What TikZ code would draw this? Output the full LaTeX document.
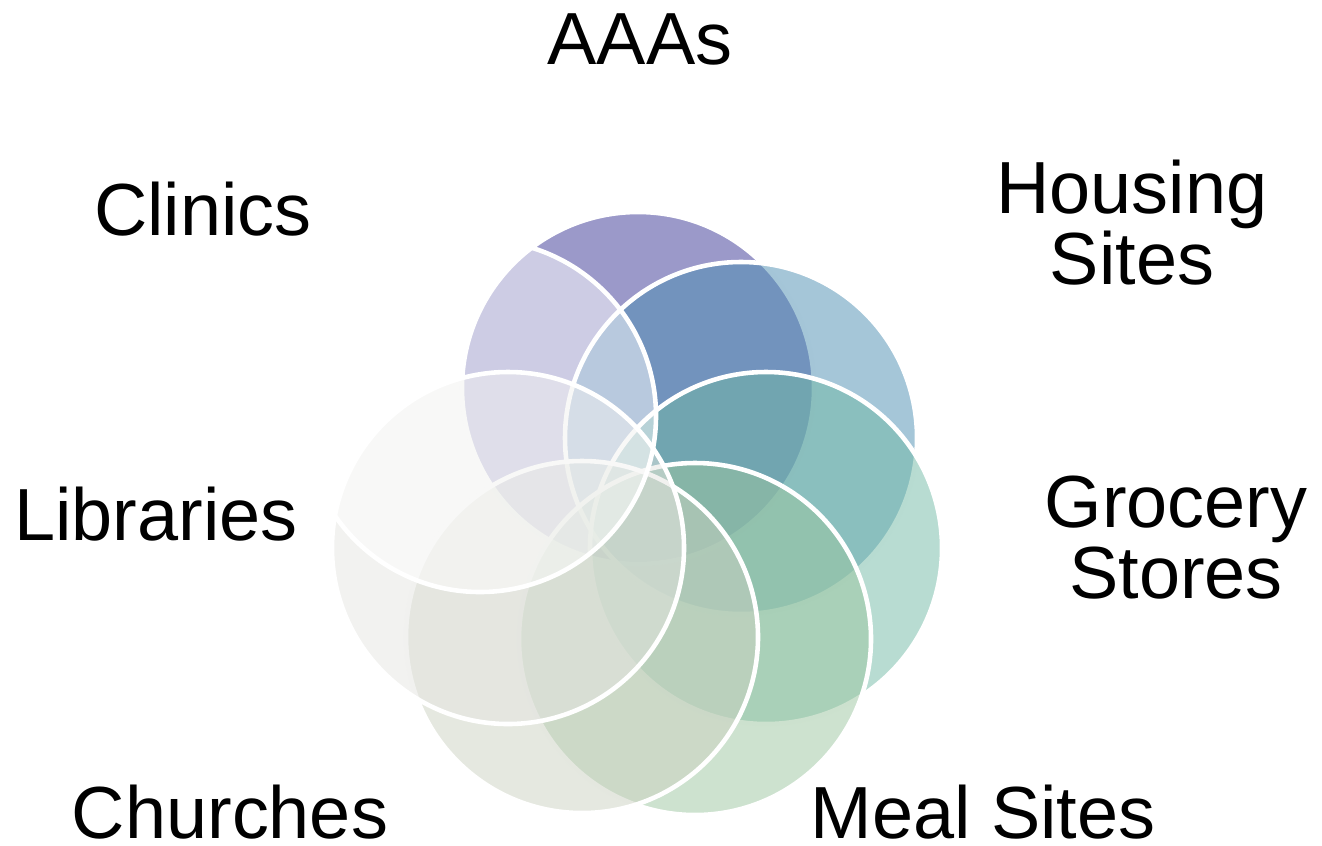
\documentclass[tikz,border=0pt]{standalone}
\usepackage{fontspec}
\setmainfont{Liberation Sans}
\usetikzlibrary{backgrounds}

\definecolor{aaacol}{HTML}{373393}
\definecolor{housecol}{HTML}{4B8DB1}
\definecolor{grocol}{HTML}{71B9A5}
\definecolor{mealcol}{HTML}{9BC59F}
\definecolor{churchcol}{HTML}{CBD1C1}
\definecolor{libcol}{HTML}{E5E5E1}
\definecolor{cliniccol}{HTML}{FFFFFF}

\begin{document}
\begin{tikzpicture}[x=0.01cm,y=-0.01cm,
		venn/.style={draw=white,line width=1.3pt,fill opacity=0.5},
		lbl/.style={font=\fontsize{21pt}{20pt}\selectfont,align=center,anchor=base,inner sep=0pt}]
		\useasboundingbox (0,0) rectangle (1322,845);
		\def\aaacircle{(638,388) circle (176)}
		\def\housecircle{(741,438) circle (176)}
		\def\grocircle{(766,548) circle (176)}
		\def\mealcircle{(695,639) circle (176)}
		\def\churchcircle{(582,637) circle (176)}
		\def\libcircle{(508,548) circle (176)}
		\def\cliniccircle{(480,416) circle (176)}
		\draw[venn,fill=aaacol] \aaacircle;
		\draw[venn,fill=housecol] \housecircle;
		\draw[venn,fill=grocol] \grocircle;
		\draw[venn,fill=mealcol] \mealcircle;
		\draw[venn,fill=churchcol] \churchcircle;
		\draw[venn,fill=libcol] \libcircle;
		\draw[venn,fill=cliniccol] \cliniccircle;
		% labels round the ring
		\node[lbl] (aaas) at (640,64) {AAAs};
		\node[lbl] (housing) at (1132,284) {Housing\\Sites};
		\node[lbl] (grocery) at (1176,598) {Grocery\\Stores};
		\node[lbl] (meal) at (983,838) {Meal Sites};
		\node[lbl] (churches) at (230,838) {Churches};
		\node[lbl] (libraries) at (156,540) {Libraries};
		\node[lbl] (clinics) at (203,235) {Clinics};
	\end{tikzpicture}
\end{document}
